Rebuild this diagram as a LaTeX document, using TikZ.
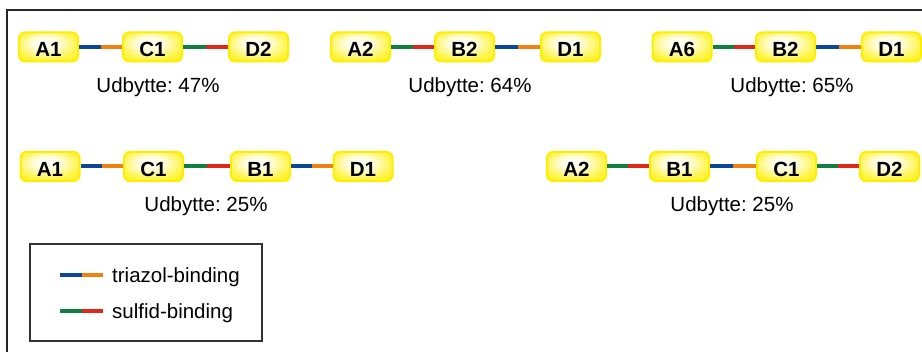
\documentclass[tikz,border=0pt]{standalone}
\usepackage{fontspec}
\setmainfont{Liberation Sans}
\usetikzlibrary{calc}
\frenchspacing
\definecolor{ylw}{HTML}{FFEE00}
\definecolor{ylwfill}{HTML}{FFF000}
\definecolor{tblue}{HTML}{0B4799}
\definecolor{torange}{HTML}{F08010}
\definecolor{sgreen}{HTML}{108040}
\definecolor{sred}{HTML}{E02818}
\pgfdeclareradialshading{boxshade}{\pgfpoint{-3bp}{8bp}}{color(0bp)=(white); color(12bp)=(white!85!ylwfill); color(26bp)=(ylwfill!70!white); color(38bp)=(ylwfill); color(60bp)=(ylwfill)}
\tikzset{
  unit/.style={draw=ylw, line width=2pt, rounded corners=6pt, shading=boxshade,
    minimum width=59pt, minimum height=29pt, inner sep=0pt,
    text height=20pt, text depth=0pt,
    font=\fontsize{20.5}{21}\selectfont\bfseries},
  yield/.style={font=\fontsize{20.5}{22}\selectfont, inner sep=0pt},
  legtext/.style={font=\fontsize{20.5}{22}\selectfont, inner sep=0pt, anchor=west},
  link/.style={line width=4pt},
}
\newcommand{\triaz}[2]{%
  \draw[link, tblue] (#1.east) -- ($(#1.east)!0.5!(#2.west)$);
  \draw[link, torange] ($(#1.east)!0.5!(#2.west)$) -- (#2.west);}
\newcommand{\sulf}[2]{%
  \draw[link, sgreen] (#1.east) -- ($(#1.east)!0.5!(#2.west)$);
  \draw[link, sred] ($(#1.east)!0.5!(#2.west)$) -- (#2.west);}
\begin{document}
\begin{tikzpicture}[x=1pt, y=-1pt]
\useasboundingbox (0,0) rectangle (922,352);
\fill[white] (0,0) rectangle (922,352);
% frame
\draw[line width=1.3pt, black!85] (7,352) -- (7,10) -- (930,10);

% group 1
\node[unit] (g1a) at (48.5,47) {A1};
\node[unit] (g1c) at (152.5,47) {C1};
\node[unit] (g1d) at (258.5,47) {D2};
\triaz{g1a}{g1c}
\sulf{g1c}{g1d}
\node[yield] (y1) at (158,87.5) {Udbytte: 47\%};

% group 2
\node[unit] (g2a) at (360.5,47) {A2};
\node[unit] (g2b) at (464.5,47) {B2};
\node[unit] (g2d) at (570.5,47) {D1};
\sulf{g2a}{g2b}
\triaz{g2b}{g2d}
\node[yield] (y2) at (470,87.5) {Udbytte: 64\%};

% group 3
\node[unit] (g3a) at (682,47) {A6};
\node[unit] (g3b) at (785.5,47) {B2};
\node[unit] (g3d) at (891.5,47) {D1};
\sulf{g3a}{g3b}
\triaz{g3b}{g3d}
\node[yield] (y3) at (792,87.5) {Udbytte: 65\%};

% group 4
\node[unit] (g4a) at (50,166.5) {A1};
\node[unit] (g4c) at (153.5,166.5) {C1};
\node[unit] (g4b) at (260.5,166.5) {B1};
\node[unit] (g4d) at (363,166.5) {D1};
\triaz{g4a}{g4c}
\sulf{g4c}{g4b}
\triaz{g4b}{g4d}
\node[yield] (y4) at (206,206.5) {Udbytte: 25\%};

% group 5
\node[unit] (g5a) at (576.5,166.5) {A2};
\node[unit] (g5b) at (679.5,166.5) {B1};
\node[unit] (g5c) at (786.5,166.5) {C1};
\node[unit] (g5d) at (889.5,166.5) {D2};
\sulf{g5a}{g5b}
\triaz{g5b}{g5c}
\sulf{g5c}{g5d}
\node[yield] (y5) at (732,206.5) {Udbytte: 25\%};

% legend
\draw[line width=1.2pt, black!80] (30,244) rectangle (262,341);
\coordinate (t1) at (60,275);
\coordinate (t2) at (82,275);
\coordinate (t3) at (103,275);
\coordinate (s1) at (60,311);
\coordinate (s2) at (82,311);
\coordinate (s3) at (103,311);
\draw[link, tblue] (t1) -- (t2);
\draw[link, torange] (t2) -- (t3);
\draw[link, sgreen] (s1) -- (s2);
\draw[link, sred] (s2) -- (s3);
\node[legtext] (lt) at (112,277.5) {triazol-binding};
\node[legtext] (ls) at (112,313) {sulfid-binding};
\end{tikzpicture}
\end{document}
